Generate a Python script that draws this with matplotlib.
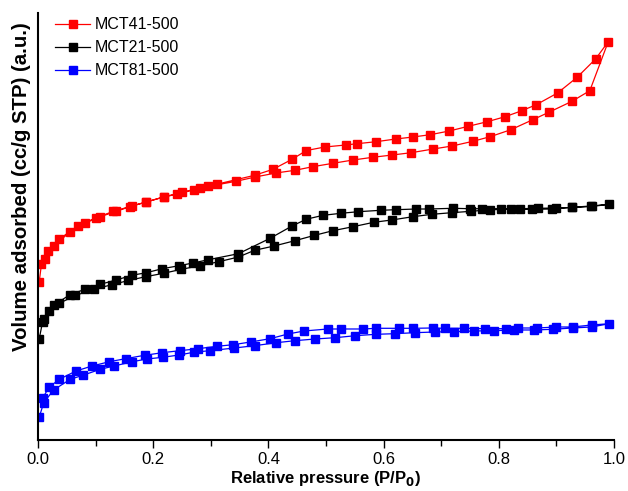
import numpy as np
import matplotlib
matplotlib.use("Agg")
import matplotlib.pyplot as plt

plt.rcParams['font.family'] = ['Liberation Sans', 'DejaVu Sans']

# MCT41-500 (red): adsorption branch, then desorption branch
p_ads_41 = [0.002, 0.006, 0.017, 0.037, 0.070, 0.100, 0.131, 0.159, 0.188, 0.218, 0.241,
            0.271, 0.296, 0.344, 0.377, 0.413, 0.446, 0.477, 0.512, 0.547, 0.581, 0.615,
            0.648, 0.686, 0.719, 0.755, 0.785, 0.821, 0.859, 0.888, 0.927, 0.958, 0.990]
v_ads_41 = [157.7, 175.7, 189.3, 201.0, 214.3, 222.0, 228.7, 233.3, 238.0, 243.0, 245.7,
            250.3, 253.7, 258.7, 263.0, 267.0, 269.7, 273.3, 276.7, 280.0, 282.7, 285.0,
            287.3, 291.0, 294.0, 298.7, 303.3, 310.3, 320.3, 328.0, 338.7, 349.3, 398.3]
p_des_41 = [0.968, 0.936, 0.902, 0.865, 0.840, 0.811, 0.780, 0.747, 0.714, 0.681, 0.651,
            0.621, 0.587, 0.554, 0.534, 0.498, 0.466, 0.441, 0.408, 0.376, 0.310, 0.281,
            0.250, 0.218, 0.188, 0.163, 0.136, 0.108, 0.082, 0.055, 0.027, 0.012]
v_des_41 = [381.0, 362.7, 347.0, 335.3, 329.3, 323.3, 318.3, 313.7, 309.0, 305.3, 303.0,
            301.0, 298.3, 296.3, 295.0, 293.0, 289.5, 280.7, 270.7, 264.7, 255.7, 252.0,
            247.7, 243.0, 238.0, 234.0, 228.7, 223.3, 217.0, 207.7, 194.0, 180.7]

# MCT21-500 (black)
p_ads_21 = [0.002, 0.008, 0.019, 0.037, 0.065, 0.098, 0.128, 0.157, 0.187, 0.218, 0.249,
            0.281, 0.314, 0.348, 0.376, 0.410, 0.446, 0.479, 0.512, 0.547, 0.583, 0.614,
            0.651, 0.684, 0.718, 0.752, 0.785, 0.821, 0.857, 0.892, 0.927, 0.960, 0.992]
v_ads_21 = [100.7, 118.3, 128.5, 136.7, 144.5, 151.0, 155.2, 159.5, 163.3, 166.7, 170.7,
            174.3, 178.3, 183.0, 189.7, 194.0, 199.3, 204.5, 209.3, 213.3, 217.7, 220.0,
            223.3, 225.7, 227.3, 228.7, 230.3, 230.7, 230.7, 231.0, 232.7, 234.0, 235.7]
p_des_21 = [0.961, 0.927, 0.899, 0.868, 0.837, 0.804, 0.771, 0.750, 0.720, 0.678, 0.657,
            0.621, 0.595, 0.556, 0.526, 0.495, 0.466, 0.441, 0.403, 0.348, 0.296, 0.269,
            0.245, 0.216, 0.188, 0.163, 0.136, 0.108, 0.082, 0.055, 0.027, 0.010]
v_des_21 = [233.5, 232.5, 232.0, 231.7, 231.3, 231.3, 231.3, 231.3, 231.7, 231.0, 231.0,
            230.3, 229.7, 228.3, 226.7, 224.7, 220.8, 214.0, 201.7, 186.3, 180.3, 177.0,
            174.3, 171.3, 167.3, 164.7, 160.0, 155.7, 150.8, 145.2, 134.5, 120.7]

# MCT81-500 (blue)
p_ads_81 = [0.002, 0.010, 0.027, 0.056, 0.078, 0.108, 0.132, 0.164, 0.189, 0.217, 0.245,
            0.270, 0.298, 0.341, 0.376, 0.414, 0.446, 0.481, 0.516, 0.551, 0.587, 0.620,
            0.654, 0.689, 0.722, 0.757, 0.792, 0.827, 0.861, 0.894, 0.928, 0.961, 0.992]
v_ads_81 = [22.7, 37.3, 50.0, 60.7, 64.7, 70.7, 74.0, 78.3, 81.0, 82.7, 85.0,
            87.7, 89.3, 92.0, 94.3, 97.3, 99.3, 101.0, 102.3, 104.3, 105.7, 106.3,
            107.3, 108.0, 108.3, 109.0, 109.3, 110.0, 110.0, 110.7, 112.0, 113.0, 116.3]
p_des_81 = [0.961, 0.928, 0.899, 0.867, 0.834, 0.812, 0.776, 0.739, 0.706, 0.685, 0.651,
            0.627, 0.587, 0.565, 0.526, 0.503, 0.462, 0.434, 0.403, 0.369, 0.339, 0.311,
            0.278, 0.246, 0.216, 0.185, 0.152, 0.124, 0.094, 0.066, 0.037, 0.019, 0.008]
v_des_81 = [115.0, 113.0, 113.0, 112.0, 112.0, 111.3, 111.3, 111.7, 111.7, 112.0, 111.7,
            111.7, 111.7, 111.0, 111.0, 111.0, 109.0, 106.0, 101.3, 98.0, 95.3, 93.7,
            91.3, 89.3, 87.3, 84.7, 81.3, 78.3, 74.0, 69.0, 60.7, 52.7, 41.7]

series = [
    ("MCT41-500", "#ff0000", p_ads_41, v_ads_41, p_des_41, v_des_41),
    ("MCT21-500", "#000000", p_ads_21, v_ads_21, p_des_21, v_des_21),
    ("MCT81-500", "#0000ff", p_ads_81, v_ads_81, p_des_81, v_des_81),
]

fig = plt.figure(figsize=(6.28, 4.91), dpi=100)
ax = fig.add_axes([0.0605, 0.1039, 0.9172, 0.8696])

for label, color, pa, va, pd, vd in series:
    # full loop: adsorption up, desorption back down
    p = list(pa) + list(pd)
    v = list(va) + list(vd)
    ax.plot(p, v, color=color, lw=0.9, marker='s', ms=5.3, mec=color, mfc=color,
            label=label)

ax.set_xlim(0, 1.0)
ax.set_ylim(0, 427)
ax.set_xticks(np.arange(0, 1.01, 0.2))
ax.set_xticks(np.arange(0.1, 1.0, 0.2), minor=True)
ax.set_yticks([])
ax.tick_params(axis='x', which='major', direction='out', length=6, width=1.0,
               labelsize=12, pad=3)
ax.tick_params(axis='x', which='minor', direction='out', length=4, width=1.0)
for s in ['top', 'right']:
    ax.spines[s].set_visible(False)
for s in ['left', 'bottom']:
    ax.spines[s].set_linewidth(1.5)

ax.set_xlabel("Relative pressure (P/P$_\\mathbf{0}$)", fontsize=12, fontweight='bold',
              labelpad=1)
ax.set_ylabel("Volume adsorbed (cc/g STP) (a.u.)", fontsize=14.7, fontweight='bold')
# label sits above the axis middle in the original
ax.yaxis.set_label_coords(-0.012, 0.5925)

ax.legend(loc='upper left', bbox_to_anchor=(0.0184, 1.005), frameon=False, fontsize=11.5,
          handlelength=2.2, handletextpad=0.31, labelspacing=0.5, borderaxespad=0.0)

fig.savefig("out.png", dpi=100)
